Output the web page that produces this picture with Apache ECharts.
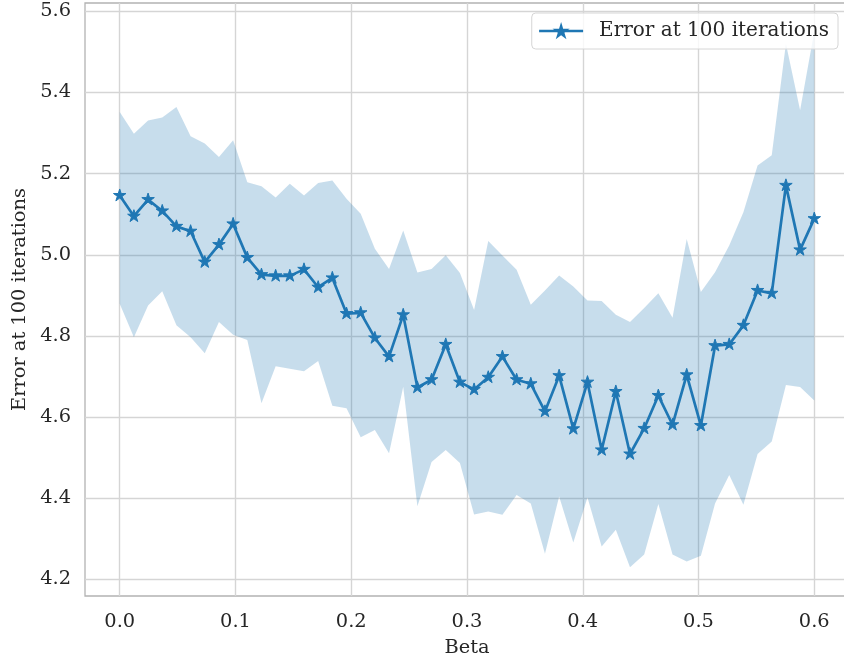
<!DOCTYPE html>
<html>
<head>
<meta charset="utf-8">
<title>Error at 100 iterations vs Beta</title>
<script src="https://cdn.jsdelivr.net/npm/echarts@6/dist/echarts.min.js"></script>
<style>
  html, body { margin: 0; padding: 0; background: #ffffff; }
  #chart { width: 844px; height: 657px; }
</style>
</head>
<body>
<div id="chart"></div>
<script>
// Beta values (50 evenly spaced settings between 0 and 0.6)
const betas = [
  0.0000, 0.012245, 0.024490, 0.036735, 0.048980, 0.061224, 0.073469, 0.085714, 0.097959, 0.110204,
  0.122449, 0.134694, 0.146939, 0.159184, 0.171429, 0.183673, 0.195918, 0.208163, 0.220408, 0.232653,
  0.244898, 0.257143, 0.269388, 0.281633, 0.293878, 0.306122, 0.318367, 0.330612, 0.342857, 0.355102,
  0.367347, 0.379592, 0.391837, 0.404082, 0.416327, 0.428571, 0.440816, 0.453061, 0.465306, 0.477551,
  0.489796, 0.502041, 0.514286, 0.526531, 0.538776, 0.551020, 0.563265, 0.575510, 0.587755, 0.600000
];

// Mean error after 100 iterations
const meanError = [
  5.146, 5.095, 5.136, 5.108, 5.070, 5.058, 4.982, 5.025, 5.076, 4.993,
  4.951, 4.948, 4.948, 4.964, 4.920, 4.943, 4.855, 4.857, 4.795, 4.749,
  4.852, 4.673, 4.692, 4.779, 4.686, 4.668, 4.698, 4.749, 4.692, 4.682,
  4.614, 4.702, 4.571, 4.686, 4.519, 4.663, 4.509, 4.572, 4.653, 4.581,
  4.704, 4.579, 4.776, 4.779, 4.826, 4.912, 4.905, 5.171, 5.012, 5.089
];

// Upper edge of the spread band
const upperError = [
  5.352, 5.298, 5.331, 5.338, 5.364, 5.292, 5.274, 5.241, 5.282, 5.179,
  5.169, 5.141, 5.175, 5.146, 5.177, 5.183, 5.138, 5.101, 5.015, 4.965,
  5.060, 4.956, 4.965, 4.999, 4.955, 4.864, 5.034, 4.998, 4.963, 4.877,
  4.912, 4.949, 4.922, 4.887, 4.886, 4.852, 4.834, 4.869, 4.905, 4.845,
  5.039, 4.908, 4.957, 5.023, 5.105, 5.220, 5.245, 5.520, 5.356, 5.550
];

// Lower edge of the spread band
const lowerError = [
  4.879, 4.797, 4.875, 4.910, 4.826, 4.797, 4.757, 4.834, 4.803, 4.790,
  4.634, 4.725, 4.719, 4.713, 4.738, 4.628, 4.622, 4.550, 4.568, 4.511,
  4.675, 4.380, 4.489, 4.519, 4.487, 4.360, 4.367, 4.359, 4.408, 4.387,
  4.263, 4.404, 4.291, 4.402, 4.281, 4.322, 4.230, 4.261, 4.386, 4.261,
  4.244, 4.258, 4.387, 4.457, 4.384, 4.509, 4.540, 4.679, 4.674, 4.641
];

// Tick positions
const xTicks = [0.0, 0.1, 0.2, 0.3, 0.4, 0.5, 0.6];
const yTicks = [4.2, 4.4, 4.6, 4.8, 5.0, 5.2, 5.4, 5.6];

const seriesName = 'Error at 100 iterations';
const xName = 'Beta';
const yName = 'Error at 100 iterations';

// Build rows for the library
const meanPoints = betas.map((b, i) => [b, meanError[i]]);
const bandRows = betas.map((b, i) => [b, lowerError[i], upperError[i]]);

// Five-pointed star glyph
const starPath = 'path://M0,-100 L22.45,-30.9 L95.11,-30.9 L36.33,11.8 L58.78,80.9 L0,38.2 L-58.78,80.9 L-36.33,11.8 L-95.11,-30.9 L-22.45,-30.9 Z';

const FONT = 'DejaVu Serif';
const TEXT = '#262626';
const BLUE = '#1f77b4';

// Shaded band between the lower and upper edges, drawn as one polygon
function renderBand(params, api) {
  if (params.dataIndex !== 0) return null;
  const pts = [];
  for (let i = 0; i < bandRows.length; i++) {
    pts.push(api.coord([bandRows[i][0], bandRows[i][2]]));
  }
  for (let i = bandRows.length - 1; i >= 0; i--) {
    pts.push(api.coord([bandRows[i][0], bandRows[i][1]]));
  }
  return {
    type: 'polygon',
    shape: { points: pts },
    style: { fill: 'rgba(31,119,180,0.25)', stroke: null },
    silent: true
  };
}

const chart = echarts.init(document.getElementById('chart'), null, { renderer: 'canvas' });

chart.setOption({
  animation: false,
  backgroundColor: '#ffffff',
  textStyle: { fontFamily: FONT },
  grid: {
    left: 85,
    top: 3,
    width: 764,
    height: 593,
    containLabel: false,
    outerBoundsMode: 'none',
    show: true,
    borderColor: '#b3b3b3',
    borderWidth: 1.3,
    backgroundColor: '#ffffff'
  },
  legend: {
    data: [seriesName],
    right: 6,
    top: 13,
    orient: 'horizontal',
    padding: [8, 9, 8, 6],
    itemWidth: 44,
    itemHeight: 14,
    backgroundColor: 'rgba(255,255,255,0.8)',
    borderColor: '#d6d6d6',
    borderWidth: 1,
    borderRadius: 4,
    lineStyle: { width: 2.7 },
    textStyle: {
      fontFamily: FONT,
      fontSize: 20,
      color: TEXT,
      padding: [0, 0, 0, 11]
    }
  },
  xAxis: {
    type: 'value',
    min: -0.03,
    max: 0.63,
    name: xName,
    nameLocation: 'middle',
    nameGap: 42,
    nameTextStyle: { fontFamily: FONT, fontSize: 19.4, color: TEXT },
    axisLine: { show: false },
    axisTick: { show: false, customValues: xTicks },
    axisLabel: {
      customValues: xTicks,
      fontFamily: FONT,
      fontSize: 19.4,
      color: TEXT,
      margin: 16,
      formatter: v => v.toFixed(1)
    },
    splitLine: { show: true, lineStyle: { color: '#d5d5d5', width: 1.4 } }
  },
  yAxis: {
    type: 'value',
    min: 4.159,
    max: 5.6205,
    name: yName,
    nameLocation: 'middle',
    nameGap: 53,
    nameRotate: 90,
    nameTextStyle: { fontFamily: FONT, fontSize: 19.4, color: TEXT },
    axisLine: { show: false },
    axisTick: { show: false, customValues: yTicks },
    axisLabel: {
      customValues: yTicks,
      fontFamily: FONT,
      fontSize: 19.4,
      color: TEXT,
      margin: 14,
      formatter: v => v.toFixed(1)
    },
    splitLine: { show: true, lineStyle: { color: '#d5d5d5', width: 1.4 } }
  },
  series: [
    {
      name: 'spread',
      type: 'custom',
      data: bandRows,
      encode: { x: 0, y: [1, 2] },
      renderItem: renderBand,
      silent: true,
      z: 1
    },
    {
      name: seriesName,
      type: 'line',
      data: meanPoints,
      symbol: starPath,
      symbolSize: 12.5,
      symbolKeepAspect: true,
      symbolOffset: [0, -0.6],
      showAllSymbol: true,
      lineStyle: { color: BLUE, width: 2.7 },
      itemStyle: { color: BLUE, borderColor: BLUE, borderWidth: 1 },
      z: 3
    }
  ]
});
</script>
</body>
</html>
